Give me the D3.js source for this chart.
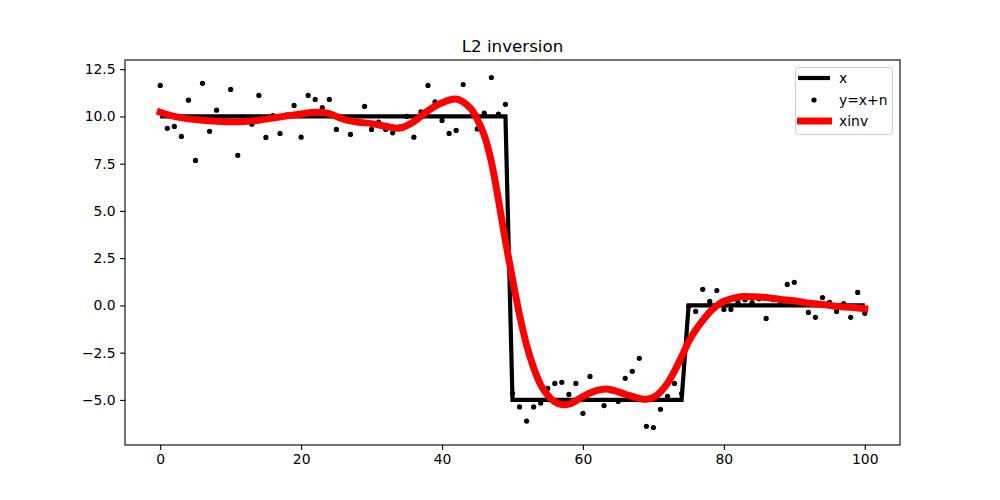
<!DOCTYPE html>
<html>
<head>
<meta charset="utf-8">
<script src="https://cdn.jsdelivr.net/npm/d3@7"></script>
<style>
  body { margin: 0; background: #fff; }
  svg { font-family: "DejaVu Sans", sans-serif; }
</style>
</head>
<body>
<svg id="chart" width="1000" height="500"></svg>
<script>
// true signal x: a step, given by its corner points
var stepX = [0, 49, 50, 74, 75, 100];
var stepY = [10, 10, -5, -5, 0, 0];

// noisy samples y = x + n, one for each index 0..100
var noisy = [
  11.64, 9.37, 9.47, 8.94, 10.86, 7.67, 11.75, 9.21, 10.33, 9.90,
  11.43, 7.94, 9.95, 9.59, 11.11, 8.89, 10.05, 9.10, 10.08, 10.58,
  8.90, 11.11, 10.90, 10.47, 10.90, 9.31, 9.90, 9.05, 9.75, 10.53,
  9.31, 9.70, 9.31, 9.13, 9.45, 10.00, 8.90, 10.24, 11.64, 10.77,
  9.79, 9.10, 9.26, 11.69, 10.40, 9.34, 10.17, 12.06, 10.12, 10.64,
  -4.66, -5.37, -6.12, -5.37, -5.17, -4.39, -4.13, -4.07, -4.71, -4.13,
  -5.71, -3.76, -4.50, -5.30, -4.52, -5.08, -3.86, -3.49, -2.80, -6.40,
  -6.46, -5.50, -4.81, -4.13, -4.66, -0.05, -0.32, 0.85, 0.21, 0.79,
  -0.21, -0.21, 0.16, 0.30, 0.15, 0.35, -0.69, 0.30, 0.05, 1.11,
  1.22, 0.10, -0.37, -0.63, 0.42, 0.16, -0.32, 0.10, -0.63, 0.69,
  -0.42
];

var invX = [0, 2, 4, 6, 8, 10, 12, 14, 16, 18, 20, 22, 24, 26, 28, 30, 32, 34, 36, 38,
  40, 42, 44, 45, 46, 47, 48, 49, 50, 51, 52, 53, 54, 55, 56, 57, 58, 59, 60, 62,
  63, 64, 66, 68, 69, 70, 71, 72, 73, 74, 75, 76, 77, 78, 79, 80, 82, 83, 84, 86, 88, 90,
  92, 94, 96, 98, 100];
var invY = [10.22, 10.0, 9.87, 9.80, 9.75, 9.72, 9.73, 9.80, 9.92, 10.03, 10.13, 10.22, 10.15, 9.85, 9.70, 9.62, 9.48, 9.38, 9.72, 10.30,
  10.72, 10.92, 10.45, 9.85, 9.0, 7.6, 5.6, 3.4, 1.4, -0.5, -2.1, -3.3, -4.2, -4.75, -5.1, -5.25, -5.22, -5.05, -4.82, -4.5,
  -4.43, -4.46, -4.7, -4.92, -4.97, -4.87, -4.58, -4.12, -3.47, -2.72, -1.92, -1.3, -0.8, -0.35, -0.02, 0.22, 0.44, 0.47, 0.46, 0.42, 0.32, 0.25,
  0.12, 0.05, -0.05, -0.1, -0.17];

var xTicks = [0, 20, 40, 60, 80, 100];
var yTicks = [-5, -2.5, 0, 2.5, 5, 7.5, 10, 12.5];
var legendNames = ["x", "y=x+n", "xinv"];

var svg = d3.select("#chart"),
    mLeft = 125, mRight = 900, mTop = 60, mBottom = 445;

var ymin = d3.min(noisy), ymax = d3.max(noisy),
    pad = (ymax - ymin) * 0.05;

var x = d3.scaleLinear().domain([-5, 105]).range([mLeft, mRight]);
var y = d3.scaleLinear().domain([ymin - pad, ymax + pad]).range([mBottom, mTop]);

var plot = svg.append("g");

var line = d3.line()
    .x(function(d) { return x(d[0]); })
    .y(function(d) { return y(d[1]); });

// x
plot.append("path")
    .datum(stepX.map(function(v, i) { return [v, stepY[i]]; }))
    .attr("d", line)
    .attr("fill", "none")
    .attr("stroke", "#000")
    .attr("stroke-width", 4.2)
    .attr("stroke-linejoin", "miter");

// y = x + n
plot.selectAll("circle.pt")
    .data(noisy)
  .enter().append("circle")
    .attr("class", "pt")
    .attr("cx", function(d, i) { return x(i); })
    .attr("cy", function(d) { return y(d); })
    .attr("r", 2.6)
    .attr("fill", "#000");

// xinv
plot.append("path")
    .datum(invX.map(function(v, i) { return [v, invY[i]]; }))
    .attr("d", line.curve(d3.curveCatmullRom))
    .attr("fill", "none")
    .attr("stroke", "#ff0000")
    .attr("stroke-width", 7)
    .attr("stroke-linecap", "square");

// axes
var xAxis = d3.axisBottom(x).tickValues(xTicks).tickSize(4.9).tickPadding(4.5);
var yAxis = d3.axisLeft(y).tickValues(yTicks).tickSize(4.9).tickPadding(4.5)
    .tickFormat(d3.format(".1f"));

var gx = svg.append("g").attr("transform", "translate(0," + mBottom + ")").call(xAxis);
var gy = svg.append("g").attr("transform", "translate(" + mLeft + ",0)").call(yAxis);

[gx, gy].forEach(function(g) {
  g.select(".domain").remove();
  g.selectAll("line").attr("stroke", "#000").attr("stroke-width", 1.1);
  g.selectAll("text").attr("font-size", "13.9px").attr("fill", "#000")
      .attr("font-family", "DejaVu Sans, sans-serif");
});

// frame
svg.append("rect")
    .attr("x", mLeft).attr("y", mTop)
    .attr("width", mRight - mLeft).attr("height", mBottom - mTop)
    .attr("fill", "none").attr("stroke", "#000").attr("stroke-width", 1.1);

// title
svg.append("text")
    .attr("x", (mLeft + mRight) / 2).attr("y", mTop - 8)
    .attr("text-anchor", "middle")
    .attr("font-size", "16.7px")
    .text("L2 inversion");

// legend
var lg = svg.append("g");
lg.append("rect")
    .attr("x", 795.5).attr("y", 67.5).attr("width", 97).attr("height", 67)
    .attr("rx", 3).attr("fill", "#fff").attr("fill-opacity", 0.8)
    .attr("stroke", "#cccccc").attr("stroke-width", 1);

var rowY = [78, 100, 121];
lg.append("line").attr("x1", 798).attr("x2", 830).attr("y1", rowY[0]).attr("y2", rowY[0])
    .attr("stroke", "#000").attr("stroke-width", 4.2);
lg.append("circle").attr("cx", 814).attr("cy", rowY[1]).attr("r", 2.6).attr("fill", "#000");
lg.append("line").attr("x1", 797).attr("x2", 832).attr("y1", rowY[2]).attr("y2", rowY[2])
    .attr("stroke", "#ff0000").attr("stroke-width", 7);

lg.selectAll("text.lab")
    .data(legendNames)
  .enter().append("text")
    .attr("class", "lab")
    .attr("x", 839)
    .attr("y", function(d, i) { return rowY[i]; })
    .attr("dy", "0.35em")
    .attr("font-size", "13.9px")
    .text(function(d) { return d; });
</script>
</body>
</html>
